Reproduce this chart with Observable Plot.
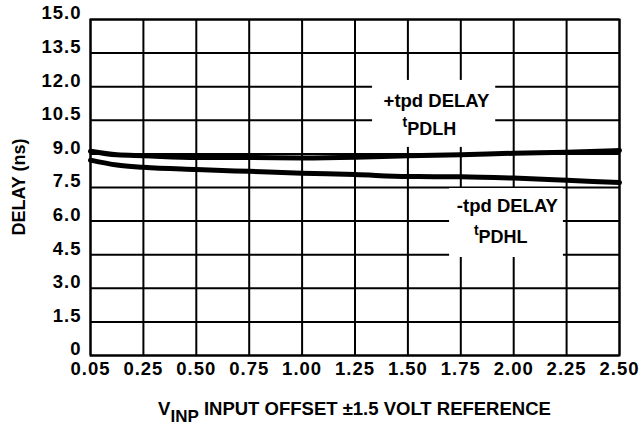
<!DOCTYPE html>
<html>
<head>
<meta charset="utf-8">
<script src="https://cdn.jsdelivr.net/npm/d3@7"></script>
<script src="https://cdn.jsdelivr.net/npm/@observablehq/plot@0.6"></script>
<style>
  body { margin: 0; background: #fff; }
  svg { font-family: "Liberation Sans", Arial, Helvetica, sans-serif; font-weight: bold; }
  svg g[aria-label$="tick label"] text { letter-spacing: 1px; }
</style>
</head>
<body>
<div id="chart"></div>
<script>
// ---- data ----
const xValues = [0.05, 0.15, 0.25, 0.50, 0.75, 1.00, 1.25, 1.50, 1.75, 2.00, 2.25, 2.50];
const tpdLH = [9.12, 8.96, 8.92, 8.84, 8.84, 8.82, 8.85, 8.92, 8.96, 9.03, 9.07, 9.15];
const tpdHL = [8.72, 8.50, 8.40, 8.30, 8.22, 8.14, 8.08, 7.99, 7.98, 7.92, 7.82, 7.72];
const xTicks = [0.05, 0.25, 0.50, 0.75, 1.00, 1.25, 1.50, 1.75, 2.00, 2.25, 2.50];
const yTicks = [0, 1.5, 3.0, 4.5, 6.0, 7.5, 9.0, 10.5, 12.0, 13.5, 15.0];

// annotation boxes (data coords)
const boxes = [
  {x1: 1.333, x2: 1.915, y1: 9.29, y2: 12.28},
  {x1: 1.697, x2: 2.235, y1: 4.375, y2: 7.455}
];
const mainLabels = [
  {x: 1.635, y: 11.38, text: "+tpd DELAY"},
  {x: 1.97, y: 6.65, text: "-tpd DELAY"}
];
const subLabels = [
  {x: 1.497, y: 10.09, t: "t", sub: "PDLH"},
  {x: 1.834, y: 5.28, t: "t", sub: "PDHL"}
];

const series = [
  ...xValues.map((x, i) => ({x, y: tpdLH[i], s: "LH"})),
  ...xValues.map((x, i) => ({x, y: tpdHL[i], s: "HL"}))
];

const width = 642, height = 427;
const ml = 90, mr = 23, mt = 19, mb = 72;
const w = width - ml - mr;
const fmtY = d => d === 0 ? "0" : d.toFixed(1);

const plot = Plot.plot({
  width, height,
  marginLeft: ml, marginRight: mr, marginTop: mt, marginBottom: mb,
  style: {fontFamily: '"Liberation Sans", Arial, sans-serif', fontSize: "18px", fontWeight: "bold", color: "#000", background: "#fff"},
  x: {
    type: "linear",
    domain: [0.05, 0.25, 2.5],
    range: [ml, ml + w / 10, ml + w],
    ticks: xTicks,
    tickFormat: d => d.toFixed(2),
    label: null
  },
  y: {
    domain: [0, 15],
    ticks: yTicks,
    tickFormat: fmtY,
    label: null
  },
  marks: [
    Plot.ruleX(xTicks, {stroke: "#000", strokeWidth: 2}),
    Plot.ruleY(yTicks, {stroke: "#000", strokeWidth: 2}),
    Plot.frame({stroke: "#000", strokeWidth: 2}),
    Plot.rect(boxes, {x1: "x1", x2: "x2", y1: "y1", y2: "y2", fill: "#fff"}),
    Plot.line(series, {x: "x", y: "y", z: "s", stroke: "#000", strokeWidth: 5, curve: "monotone-x"}),
    Plot.axisX({ticks: xTicks, tickSize: 0, tickPadding: 6, tickFormat: d => d.toFixed(2), fontSize: 18.5, label: null}),
    Plot.axisY({ticks: yTicks, tickSize: 0, tickPadding: 9, dy: -6, tickFormat: fmtY, fontSize: 18.5, label: null}),
    Plot.text(mainLabels, {x: "x", y: "y", text: "text", fontSize: 18.5, fontWeight: "bold", fill: "#000"}),
    Plot.text(subLabels, {x: "x", y: "y", text: "t", fontSize: 14, fontWeight: "bold", textAnchor: "end", dy: -7, fill: "#000"}),
    Plot.text(subLabels, {x: "x", y: "y", text: "sub", fontSize: 18, fontWeight: "bold", textAnchor: "start", fill: "#000"})
  ]
});

const svg = d3.select(plot);
// x axis title with subscript
const xt = svg.append("text")
  .attr("x", ml + w / 2)
  .attr("y", 415)
  .attr("text-anchor", "middle")
  .attr("font-size", 18.5)
  .attr("font-weight", "bold")
  .attr("fill", "#000");
xt.append("tspan").text("V");
xt.append("tspan").attr("dy", 7).attr("font-size", 17).text("INP");
xt.append("tspan").attr("dy", -7).text(" INPUT OFFSET ±1.5 VOLT REFERENCE");

// y axis title
svg.append("text")
  .attr("transform", `translate(25,${mt + (height - mt - mb) / 2}) rotate(-90)`)
  .attr("text-anchor", "middle")
  .attr("font-size", 18)
  .attr("font-weight", "bold")
  .attr("fill", "#000")
  .text("DELAY (ns)");

document.getElementById("chart").appendChild(plot);
</script>
</body>
</html>
